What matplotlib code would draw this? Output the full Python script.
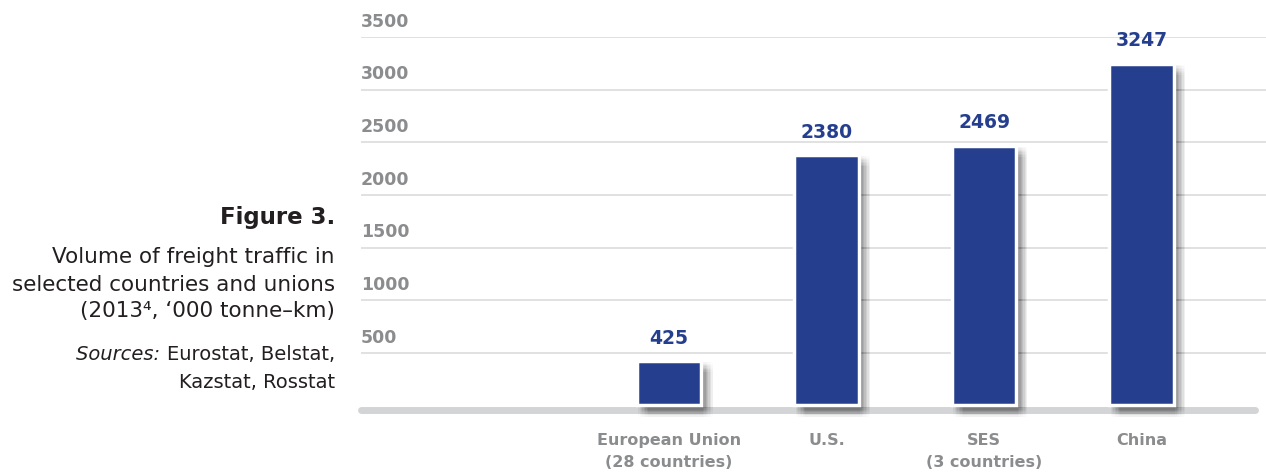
import numpy as np
import matplotlib
matplotlib.use("Agg")
import matplotlib.pyplot as plt
import matplotlib.patheffects as pe
from matplotlib.text import Annotation

# freight volumes, 2013, '000 tonne-km
categories = ["European Union\n(28 countries)", "U.S.", "SES\n(3 countries)", "China"]
values = [425, 2380, 2469, 3247]
y_ticks = [500, 1000, 1500, 2000, 2500, 3000, 3500]

bar_color = "#253f8e"
tick_gray = "#8b8c8e"
text_dark = "#231f20"

fig = plt.figure(figsize=(12.66, 4.72), dpi=100)
ax = fig.add_axes([0.2852, 0.1409, 0.7148, 0.7807])

x = np.arange(len(values))
ax.set_xlim(-1.956, 3.79)
ax.set_ylim(0, 3500)

# light horizontal guides with the value written above each one
for v in y_ticks:
    ax.axhline(v, color="#d8d8d8", linewidth=1.1, zorder=0)
    ax.annotate(str(v), xy=(0, v), xycoords=("axes fraction", "data"),
                xytext=(0, 4.5), textcoords="offset points",
                ha="left", va="bottom", fontsize=12.5, fontweight="bold",
                color=tick_gray, annotation_clip=False)

# thick rounded base line
ax.plot([0.0, 0.988], [-45, -45], transform=ax.get_yaxis_transform(),
        color="#d3d4d6", linewidth=5, solid_capstyle="round",
        clip_on=False, zorder=1)

# soft drop shadow: a grid of faint offset copies fakes the blur
steps = np.arange(1.0, 9.0, 1.0)
shadow = [pe.SimplePatchShadow(offset=(dx, -dy), shadow_rgbFace="black", alpha=0.0085)
          for dx in steps for dy in steps]
bars = ax.bar(x, values, width=0.41, color=bar_color, edgecolor="white",
              linewidth=2.5, zorder=3, clip_on=False)
for b in bars:
    b.set_path_effects(shadow + [pe.Normal()])

for xi, v in zip(x, values):
    ax.annotate(str(v), xy=(xi, v), xytext=(0, 9.5), textcoords="offset points",
                ha="center", va="bottom", fontsize=13.5, fontweight="bold",
                color=bar_color)

ax.set_xticks(x, categories)
ax.tick_params(axis="x", length=0, pad=20, labelsize=11.5, labelcolor=tick_gray)
for lbl in ax.get_xticklabels():
    lbl.set_fontweight("bold")
    lbl.set_linespacing(1.6)
ax.set_yticks([])
for s in ax.spines.values():
    s.set_visible(False)

# caption on the left
cx = 0.2646
fig.text(cx, 0.540, "Figure 3.", ha="right", va="center", fontsize=16.5,
         fontweight="bold", color=text_dark)
caption = ["Volume of freight traffic in",
           "selected countries and unions",
           "(2013\u2074, \u2018000 tonne\u2013km)"]
for line, yy in zip(caption, [0.4555, 0.396, 0.341]):
    fig.text(cx, yy, line, ha="right", va="center", fontsize=15.5, color=text_dark)
src = fig.text(cx, 0.248, "Eurostat, Belstat,", ha="right", va="center",
               fontsize=14, color=text_dark)
fig.add_artist(Annotation("Sources: ", xy=(0, 0.5), xycoords=src,
                          ha="right", va="center", fontsize=14,
                          style="italic", color=text_dark))
fig.text(cx, 0.189, "Kazstat, Rosstat", ha="right", va="center",
         fontsize=14, color=text_dark)

fig.savefig("out.png", dpi=100)
